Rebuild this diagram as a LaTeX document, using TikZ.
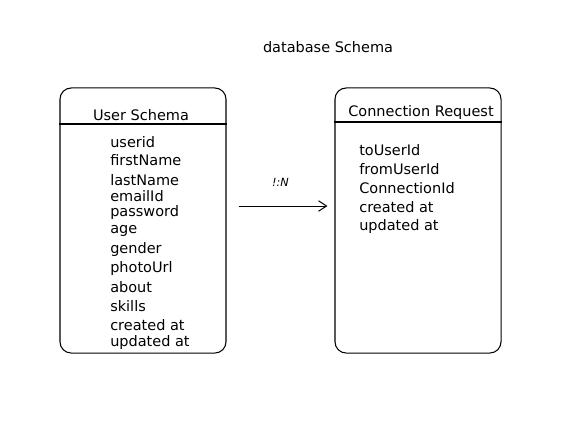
\documentclass[tikz,border=0pt]{standalone}
\usepackage{fontspec}
\setmainfont{DejaVu Sans}
\usetikzlibrary{arrows.meta, positioning}

\begin{document}
\begin{tikzpicture}[x=0.025cm, y=-0.025cm, font=\fontsize{10.3}{12}\selectfont,
    table/.style={draw, line width=0.75pt, rounded corners=8pt, minimum width=4.15cm, minimum height=6.625cm},
    field/.style={anchor=west, inner sep=0pt},
    link/.style={-{Straight Barb[length=2mm, width=2.6mm]}, line width=0.7pt}]
    \useasboundingbox (0,0) rectangle (565,422);

    % 标题
    \node (title) at (328,47) {database Schema};

    % User Schema
    \node[table] (user) at (143,220.5) {};
    \node (userhead) at (141,115) {User Schema};
    \draw[line width=0.75pt] (user.west |- 0,124) -- (user.east |- 0,124);
    \foreach \t/\y [count=\i] in {userid/142, firstName/160, lastName/180, emailId/196, password/212,
        age/231, gender/249, photoUrl/268, about/287, skills/306, created at/325, updated at/342} {
        \node[field] (U\i) at (110,\y) {\t};
    }

    % Connection Request
    \node[table] (conn) at (418,220.5) {};
    \node (connhead) at (421,112) {Connection Request};
    \draw[line width=0.75pt] (conn.west |- 0,122) -- (conn.east |- 0,122);
    \foreach \t/\y [count=\i] in {toUserId/150, fromUserId/169, ConnectionId/188, created at/207, updated at/226} {
        \node[field] (C\i) at (359,\y) {\t};
    }

    % 关系
    \coordinate (rel) at (0,206);
    \draw[link, shorten <=0.3cm, shorten >=0.175cm] (user.east |- rel) -- (conn.west |- rel)
        node[midway, above=0.35cm, font=\fontsize{8}{10}\itshape] (card) {!:N};
\end{tikzpicture}
\end{document}
